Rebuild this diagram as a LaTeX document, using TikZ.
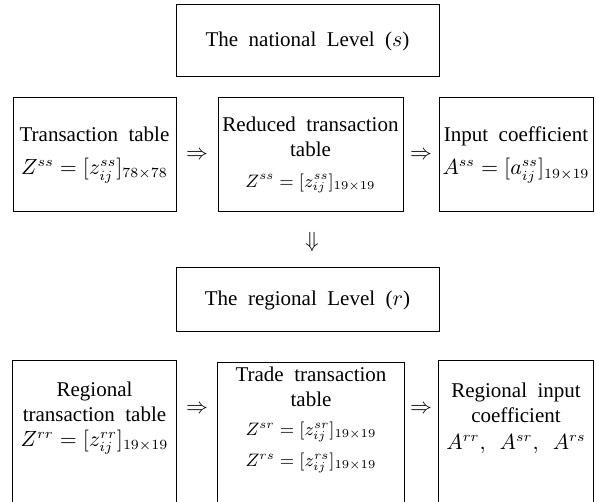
\documentclass[tikz,border=0pt]{standalone}
\usepackage{fontspec}
\setmainfont{Liberation Serif}[WordSpace=2]
\begin{document}
\begin{tikzpicture}[x=0.5pt, y=-0.5pt, line width=0.5pt, font=\fontsize{10.5}{12.5}\selectfont,
    box/.style={draw, inner sep=1pt, align=center},
    lvl/.style={box, minimum width=131.5pt, minimum height=36pt},
    tbl/.style={box, minimum height=57pt},
    open/.style={box, draw=none}]
    \useasboundingbox (0,0) rectangle (596,502);
    \clip (0,0) rectangle (596,502);
    % national level
    \node[lvl] (nat) at (307.5,41) {The national Level ($s$)};
    \node[tbl, minimum width=81.5pt] (ntab) at (94.5,155) {Transaction table\\[4pt] $Z^{ss}=[z^{ss}_{ij}]_{78\times78}$};
    \node[tbl, minimum width=92.5pt] (nred) at (310.5,155) {Reduced transaction\\table\\[3pt] {\small $Z^{ss}=[z^{ss}_{ij}]_{19\times19}$}};
    \node[tbl, minimum width=77pt] (ncoef) at (516,155) {Input coefficient\\[4pt] $A^{ss}=[a^{ss}_{ij}]_{19\times19}$};
    \node (nto1) at (197,155) {$\Rightarrow$};
    \node (nto2) at (421,155) {$\Rightarrow$};
    \node (down) at (312,242) {$\Downarrow$};
    % regional level
    \node[lvl, minimum height=32pt] (reg) at (307.5,300) {The regional Level ($r$)};
    \node[open, minimum width=81.5pt, minimum height=57pt] (rtab) at (94.5,418) {Regional\\transaction table\\$Z^{rr}=[z^{rr}_{ij}]_{19\times19}$};
    \node[open, minimum width=93pt, minimum height=57pt] (rtrd) at (311,420) {Trade transaction\\table\\[2pt] {\small $Z^{sr}=[z^{sr}_{ij}]_{19\times19}$}\\[3pt] {\small $Z^{rs}=[z^{rs}_{ij}]_{19\times19}$}};
    \node[open, minimum width=77pt, minimum height=57pt] (rcoef) at (516,418) {Regional input\\coefficient\\[1pt] $A^{rr},\ A^{sr},\ A^{rs}$};
    \foreach \n in {rtab,rtrd,rcoef}
        \draw ([yshift=-30pt]\n.south west) |- (\n.north east) -- ([yshift=-30pt]\n.south east);
    \node (rto1) at (197,409) {$\Rightarrow$};
    \node (rto2) at (421,409) {$\Rightarrow$};
\end{tikzpicture}
\end{document}
